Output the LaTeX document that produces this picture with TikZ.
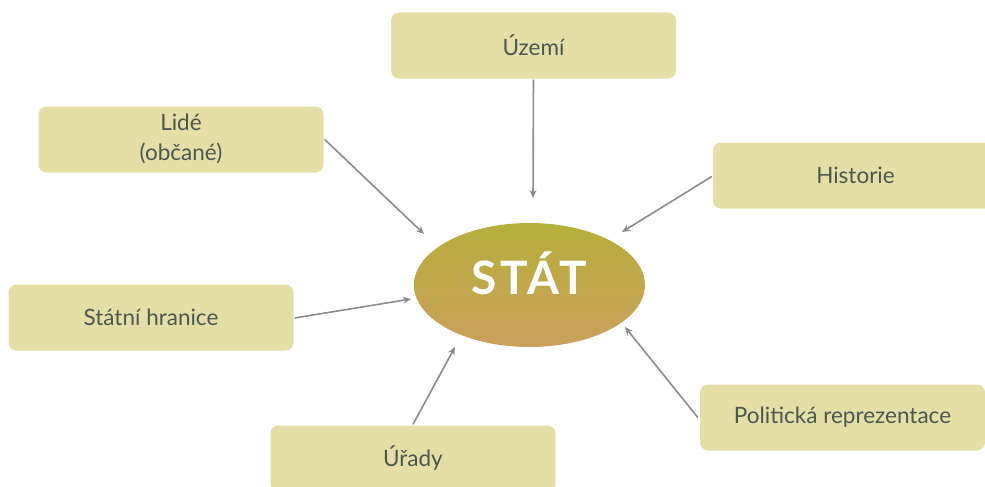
\documentclass[tikz,border=0pt]{standalone}
\usepackage{fontspec}
\setmainfont{Lato}
\usetikzlibrary{shapes.geometric,arrows.meta}
\definecolor{boxfill}{RGB}{227,223,167}
\definecolor{boxtext}{RGB}{76,88,78}
\definecolor{arrowgray}{RGB}{140,140,140}
\definecolor{elltop}{RGB}{182,175,60}
\definecolor{ellbot}{RGB}{202,160,92}
\tikzset{
  topic/.style={draw=none, fill=boxfill, rounded corners=8pt, minimum width=285pt, minimum height=66pt,
    text=boxtext, font=\fontsize{22.5}{31}\selectfont, align=center, inner sep=0pt},
  link/.style={draw=arrowgray, line width=1.6pt, -{Stealth[length=8pt,width=7pt]}},
  hub/.style={ellipse, minimum width=231pt, minimum height=124pt, inner sep=0pt,
    top color=elltop, bottom color=ellbot, draw=none, text=white,
    font=\fontsize{46}{50}\selectfont\bfseries\addfontfeatures{LetterSpace=7}}
}
\begin{document}
\begin{tikzpicture}[x=1pt,y=-1pt]
\useasboundingbox (0,0) rectangle (985,487);
\node[hub] (stat) at (529.5,285) {\raisebox{24pt}{STÁT}};
\node[topic] (uzemi) at (533.5,45.5) {Území};
\node[topic] (lide) at (181,139.5) {\raisebox{-4pt}{\begin{tabular}{@{}c@{}}Lidé\\[-1pt](občané)\end{tabular}}};
\node[topic] (hist) at (855.5,175.5) {Historie};
\node[topic] (hran) at (151,317.5) {Státní hranice};
\node[topic] (urady) at (413,458.5) {Úřady};
\node[topic] (polit) at (842.5,417.5) {Politická reprezentace};
\coordinate (tU) at (533,198);
\coordinate (tL) at (424,234);
\coordinate (tH) at (622,232);
\coordinate (tS) at (411,299);
\coordinate (tR) at (455,347);
\coordinate (tP) at (625,327);
\draw[link] (uzemi.south) ++(0,1) -- (tU);
\draw[link] (lide.east) ++(1,0) -- (tL);
\draw[link] (hist.west) ++(-1,1) -- (tH);
\draw[link] (hran.east) ++(1,0.5) -- (tS);
\draw[link] (urady.north) ++(0,-1) -- (tR);
\draw[link] (polit.west) ++(-2,0) -- (tP);
\end{tikzpicture}
\end{document}
